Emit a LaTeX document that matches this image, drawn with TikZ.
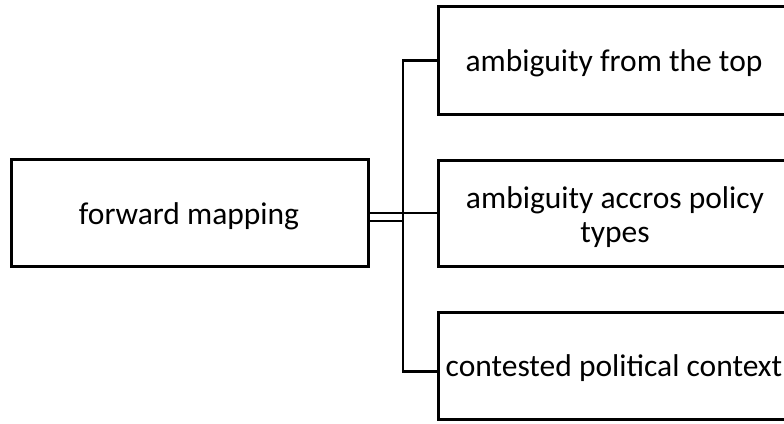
\documentclass[tikz,border=0pt]{standalone}
\usepackage{fontspec}
\setmainfont{Carlito}
\begin{document}
\begin{tikzpicture}[x=1pt,y=1pt,
  box/.style={draw=black,line width=2.6pt,rectangle,inner sep=0pt,anchor=south west},
  conn/.style={draw=black,line width=2.6pt},
  lbl/.style={font=\fontsize{31.5}{34}\selectfont,inner sep=0pt,align=center,anchor=base}]
\clip (0,0) rectangle (784,423);
\fill[white] (0,0) rectangle (784,423);
% boxes (y flipped: tikz y = 423 - pixel y)
\node[box,minimum width=357,minimum height=107] (L) at (10,155) {};
\node[box,minimum width=370,minimum height=108] (T) at (437,307) {};
\node[box,minimum width=370,minimum height=106] (M) at (437,155) {};
\node[box,minimum width=370,minimum height=107] (B) at (437,2) {};
% labels
\node[lbl] (tL) at (189,198) {forward mapping};
\node[lbl] (tT) at (614,351) {ambiguity from the top};
\node[lbl] (tM) at (615,180) {ambiguity accros policy\\types};
\node[lbl] (tB) at (614,46) {contested political context};
% connectors
\coordinate (tk) at (403,0);
\draw[conn] (L.east) -- (L.east -| M.west);
\draw[conn] ([yshift=-8]L.east) -- ([yshift=-8]L.east -| tk);
\draw[conn] (T.west) -| ([yshift=-5.5]B.west -| tk) -- ([yshift=-5.5]B.west);
\end{tikzpicture}
\end{document}
